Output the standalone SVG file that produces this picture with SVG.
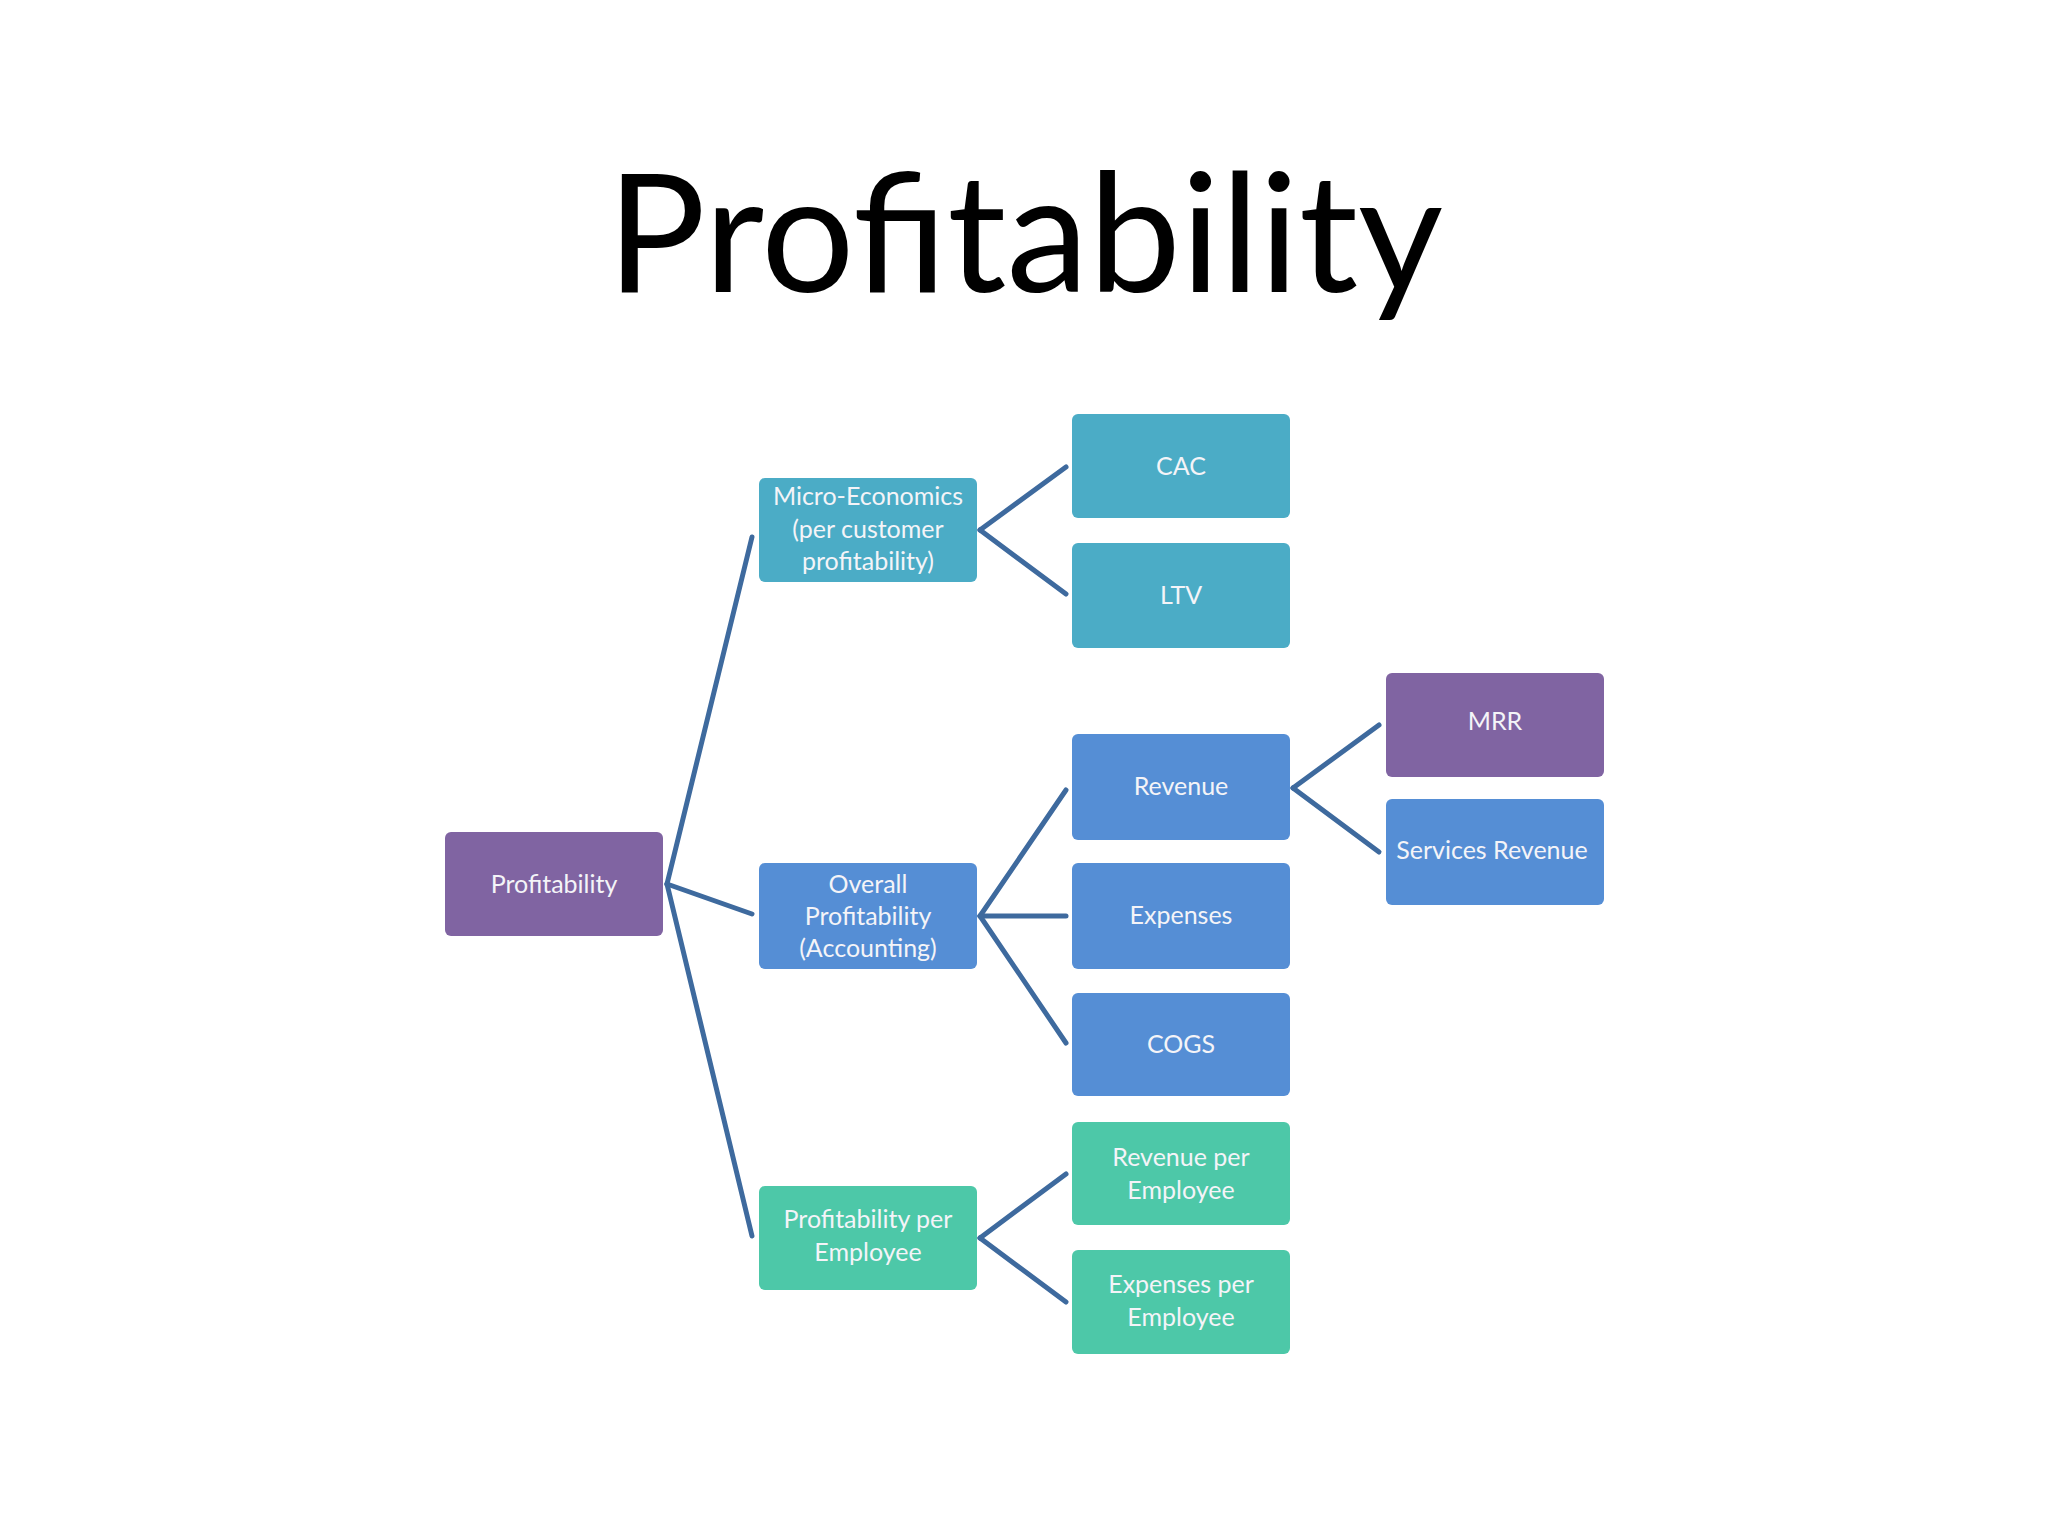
<svg xmlns="http://www.w3.org/2000/svg" width="2048" height="1536" viewBox="0 0 2048 1536">
<style>
.t{font-family:Lato,"Open Sans",sans-serif;font-size:25px;fill:#f4f4f8;text-anchor:middle}
.p{fill:#8064A2}.c{fill:#4BACC6}.b{fill:#558ED5}.g{fill:#4DC8A8}
.ln line{stroke:#3E6A9E;stroke-width:5;stroke-linecap:round}
</style>
<rect width="2048" height="1536" fill="#ffffff"/>
<text x="1025" y="292" font-family="Lato,'Open Sans',sans-serif" font-size="165" text-anchor="middle" fill="#000">Profitability</text>
<g class="ln">
<line x1="667" y1="884" x2="752" y2="537"/>
<line x1="667" y1="884" x2="752" y2="914"/>
<line x1="667" y1="884" x2="752" y2="1236"/>
<line x1="980" y1="530" x2="1066" y2="467"/>
<line x1="980" y1="530" x2="1066" y2="594"/>
<line x1="980" y1="916" x2="1066" y2="790"/>
<line x1="980" y1="916" x2="1066" y2="916"/>
<line x1="980" y1="916" x2="1066" y2="1043"/>
<line x1="980" y1="1238" x2="1066" y2="1174"/>
<line x1="980" y1="1238" x2="1066" y2="1302"/>
<line x1="1293" y1="788" x2="1379" y2="725"/>
<line x1="1293" y1="788" x2="1379" y2="852"/>
</g>
<g id="profitability"><rect class="p" x="445" y="832" width="218" height="104" rx="6"/><text class="t" x="554" y="893">Profitability</text></g>
<g id="micro"><rect class="c" x="759" y="478" width="218" height="104" rx="6"/><text class="t" x="868" y="505">Micro-Economics</text><text class="t" x="868" y="538">(per customer</text><text class="t" x="868" y="570">profitability)</text></g>
<g id="overall"><rect class="b" x="759" y="863" width="218" height="106" rx="6"/><text class="t" x="868" y="893">Overall</text><text class="t" x="868" y="925">Profitability</text><text class="t" x="868" y="957">(Accounting)</text></g>
<g id="ppe"><rect class="g" x="759" y="1186" width="218" height="104" rx="6"/><text class="t" x="868" y="1228">Profitability per</text><text class="t" x="868" y="1261">Employee</text></g>
<g id="cac"><rect class="c" x="1072" y="414" width="218" height="104" rx="6"/><text class="t" x="1181" y="475">CAC</text></g>
<g id="ltv"><rect class="c" x="1072" y="543" width="218" height="105" rx="6"/><text class="t" x="1181" y="604">LTV</text></g>
<g id="revenue"><rect class="b" x="1072" y="734" width="218" height="106" rx="6"/><text class="t" x="1181" y="795">Revenue</text></g>
<g id="expenses"><rect class="b" x="1072" y="863" width="218" height="106" rx="6"/><text class="t" x="1181" y="924">Expenses</text></g>
<g id="cogs"><rect class="b" x="1072" y="993" width="218" height="103" rx="6"/><text class="t" x="1181" y="1053">COGS</text></g>
<g id="revpe"><rect class="g" x="1072" y="1122" width="218" height="103" rx="6"/><text class="t" x="1181" y="1166">Revenue per</text><text class="t" x="1181" y="1199">Employee</text></g>
<g id="exppe"><rect class="g" x="1072" y="1250" width="218" height="104" rx="6"/><text class="t" x="1181" y="1293">Expenses per</text><text class="t" x="1181" y="1326">Employee</text></g>
<g id="mrr"><rect class="p" x="1386" y="673" width="218" height="104" rx="6"/><text class="t" x="1495" y="730">MRR</text></g>
<g id="services"><rect class="b" x="1386" y="799" width="218" height="106" rx="6"/><text class="t" x="1492" y="859">Services Revenue</text></g>
</svg>
